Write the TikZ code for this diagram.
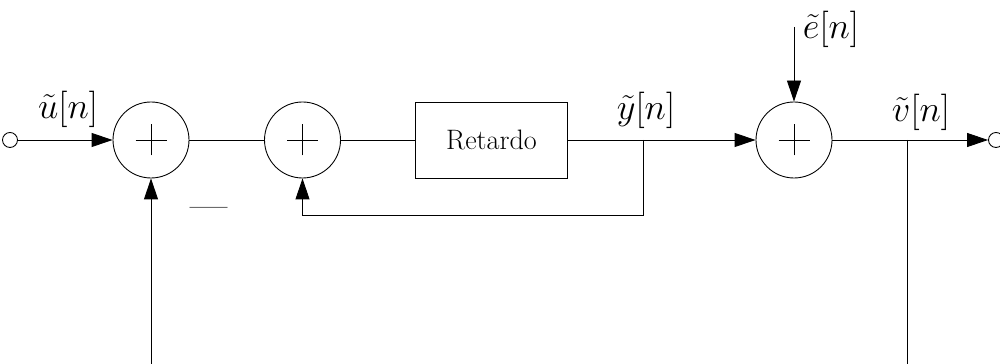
\documentclass[tikz,border=0pt]{standalone}
\usetikzlibrary{arrows.meta}
\begin{document}
\begin{tikzpicture}[
    line width=0.5pt,
    every node/.style={font=\fontsize{16}{19}\selectfont},
    sig/.style={font=\fontsize{21}{24}\selectfont, inner sep=1pt},
    sumnode/.style={draw, circle, minimum size=1.52cm, inner sep=0pt,
        path picture={
            \draw[line width=0.45pt] ([xshift=-0.31cm]path picture bounding box.center) -- ([xshift=0.31cm]path picture bounding box.center);
            \draw[line width=0.45pt] ([yshift=-0.31cm]path picture bounding box.center) -- ([yshift=0.31cm]path picture bounding box.center);
        }},
    block/.style={draw, minimum width=3.04cm, minimum height=1.52cm, inner sep=0pt},
    port/.style={draw, circle, minimum size=0.3cm, inner sep=0pt},
    arrow/.style={-{Triangle[length=0.42cm, width=0.28cm]}}
]
    \useasboundingbox (0,0) rectangle (20,7.28);

    \node[port] (in) at (0.2, 4.48) {};
    \node[sumnode] (s1) at (3.02, 4.48) {};
    \node[sumnode] (s2) at (6.05, 4.48) {};
    \node[block] (ret) at (9.83, 4.48) {Retardo};
    \node[sumnode] (s3) at (15.88, 4.48) {};
    \node[port] (out) at (19.92, 4.48) {};

    \coordinate (by) at (12.86, 4.48);
    \coordinate (fb) at (12.86, 2.98);
    \coordinate (ein) at (15.88, 6.74);
    \coordinate (bv) at (18.15, 4.48);
    \coordinate (bot1) at (3.02, 0);
    \coordinate (bot2) at (18.15, 0);

    \node[sig] (lu) at (1.36, 5.1) {$\tilde{u}[n]$};
    \node[sig] (ly) at (12.92, 5.08) {$\tilde{y}[n]$};
    \node[sig] (le) at (16.62, 6.7) {$\tilde{e}[n]$};
    \node[sig] (lv) at (18.42, 5.04) {$\tilde{v}[n]$};
    \node[font=\fontsize{23}{23}\selectfont] (minus) at (4.18, 3.02) {---};

    \draw[arrow] (in) -- (s1);
    \draw (s1) -- (s2);
    \draw (s2) -- (ret);
    \draw[arrow] (ret) -- (s3);
    \draw[arrow] (by) -- (fb) -| (s2.south);
    \draw[arrow] (ein) -- (s3.north);
    \draw[arrow] (s3) -- (out);
    \draw (bv) -- (bot2);
    \draw[arrow] (bot1) -- (s1.south);
\end{tikzpicture}
\end{document}
